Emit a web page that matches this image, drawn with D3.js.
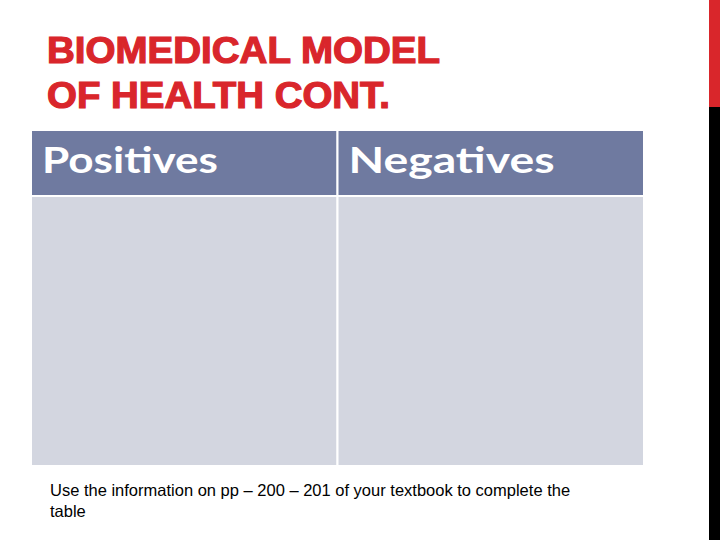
<!DOCTYPE html>
<html><head><meta charset="utf-8">
<script src="https://cdn.jsdelivr.net/npm/d3@7"></script>
<style>body{margin:0;background:#fff}</style>
</head><body>
<script>
const titleLines = ["BIOMEDICAL MODEL", "OF HEALTH CONT."];
const columns = ["Positives", "Negatives"];
const bodyCells = ["", ""];
const note = ["Use the information on pp – 200 – 201 of your textbook to complete the", "table"];

const svg = d3.select("body").append("svg").attr("width", 720).attr("height", 540);
svg.append("rect").attr("x", 709).attr("y", 0).attr("width", 11).attr("height", 107).attr("fill", "#d9262b");
svg.append("rect").attr("x", 709).attr("y", 107).attr("width", 11).attr("height", 433).attr("fill", "#000");

svg.selectAll("text.title").data(titleLines).join("text")
  .attr("x", 47).attr("y", (d, i) => 63 + i * 45)
  .attr("fill", "#d9262b").attr("stroke", "#d9262b").attr("stroke-width", 1.2)
  .attr("font-family", "Liberation Sans, Arial, sans-serif")
  .attr("font-weight", "bold").attr("font-size", 36)
  .attr("textLength", (d, i) => i === 0 ? 393 : 343).attr("lengthAdjust", "spacingAndGlyphs")
  .text(d => d);

const x = d3.scaleBand().domain(columns).range([31, 644]);
const g = svg.append("g");
g.selectAll("rect.h").data(columns).join("rect")
  .attr("x", d => x(d)).attr("y", 130).attr("width", x.bandwidth()).attr("height", 66)
  .attr("fill", "#6f7aa0").attr("stroke", "#fff").attr("stroke-width", 2);
g.selectAll("rect.b").data(columns).join("rect")
  .attr("x", d => x(d)).attr("y", 196).attr("width", x.bandwidth()).attr("height", 270)
  .attr("fill", "#d3d6e0").attr("stroke", "#fff").attr("stroke-width", 2);
g.selectAll("text.h").data(columns).join("text")
  .attr("x", d => x(d) + 11).attr("y", 173)
  .attr("fill", "#fff").attr("font-family", "Lato, sans-serif").attr("font-weight", "bold")
  .attr("font-size", 37).attr("textLength", (d, i) => i === 0 ? 176 : 206)
  .attr("lengthAdjust", "spacingAndGlyphs").text(d => d);
g.selectAll("text.b").data(bodyCells).join("text")
  .attr("x", (d, i) => x(columns[i]) + 11).attr("y", 230).text(d => d);

svg.selectAll("text.note").data(note).join("text")
  .attr("x", 50).attr("y", (d, i) => 496 + i * 21)
  .attr("font-family", "Liberation Sans, Arial, sans-serif").attr("font-size", 16.5)
  .attr("fill", "#000").text(d => d);
</script>
</body></html>
